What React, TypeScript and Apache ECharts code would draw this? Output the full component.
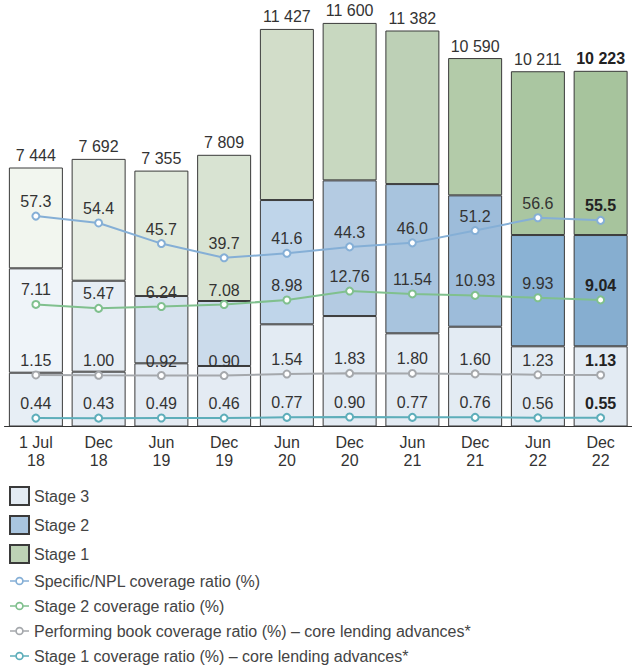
import React, { useEffect, useRef } from "react";
import * as echarts from "echarts";

const categories = ["1 Jul\n18", "Dec\n18", "Jun\n19", "Dec\n19", "Jun\n20", "Dec\n20", "Jun\n21", "Dec\n21", "Jun\n22", "Dec\n22"];
const totals = [7444, 7692, 7355, 7809, 11427, 11600, 11382, 10590, 10211, 10223];
const stage3 = [1546, 1575, 1816, 1739, 2937, 3175, 2678, 2868, 2305, 2305];
const stage2 = [3000, 2615, 1934, 1868, 3572, 3899, 4290, 3776, 3198, 3198];
const stage1 = [2898, 3502, 3605, 4202, 4918, 4526, 4414, 3946, 4708, 4720];
const specificNpl = [57.3, 54.4, 45.7, 39.7, 41.6, 44.3, 46.0, 51.2, 56.6, 55.5];
const stage2Cov = [7.11, 5.47, 6.24, 7.08, 8.98, 12.76, 11.54, 10.93, 9.93, 9.04];
const performingCov = [1.15, 1.0, 0.92, 0.9, 1.54, 1.83, 1.8, 1.6, 1.23, 1.13];
const stage1Cov = [0.44, 0.43, 0.49, 0.46, 0.77, 0.9, 0.77, 0.76, 0.56, 0.55];

const barNames = ["Stage 3", "Stage 2", "Stage 1"];
const lineNames = [
  "Specific/NPL coverage ratio (%)",
  "Stage 2 coverage ratio (%)",
  "Performing book coverage ratio (%) – core lending advances*",
  "Stage 1 coverage ratio (%) – core lending advances*",
];

const s1Colors = ["#f2f6ef", "#e7ede3", "#e1eadc", "#d8e3d2", "#d2ddc9", "#c8d8c0", "#bdd0b6", "#b3cba9", "#aac6a1", "#a7c49d"];
const s2Colors = ["#eff4f9", "#e6edf4", "#d6e2ee", "#cbdbeb", "#bfd5ea", "#b4cbe2", "#a8c4de", "#9dbcda", "#8ab2d4", "#86aed0"];
const s3Colors = ["#e7eef5", "#e5ecf4", "#e4ebf3", "#e4ebf3", "#e3ebf3", "#e3ebf3", "#e3ebf3", "#e3ebf3", "#e3ebf3", "#e3ebf3"];
const lineColors = ["#85afd6", "#80c08e", "#a5a8ac", "#5eaeba"];

const FONT = "'Liberation Sans', Arial, Helvetica, sans-serif";
const last = categories.length - 1;

const LINE_ICON =
  "path://M0 3.7H5.6V5.3H0Z" +
  "M14.5 4.5A4.5 4.5 0 1 0 5.5 4.5A4.5 4.5 0 1 0 14.5 4.5Z" +
  "M12.7 4.5A2.7 2.7 0 1 1 7.3 4.5A2.7 2.7 0 1 1 12.7 4.5Z" +
  "M14.4 3.7H20V5.3H14.4Z";

function fmtThousands(n: number) {
  return String(n).replace(/\B(?=(\d{3})+(?!\d))/g, " ");
}

export default function App() {
  const ref = useRef<HTMLDivElement>(null);
  useEffect(() => {
    document.body.style.margin = "0";
    const chart = echarts.init(ref.current!, null, { renderer: "svg" });
    const border = { borderColor: "#3a3a3a", borderWidth: 1 };
    const barSeries = (name: string, vals: number[], colors: string[], legendColor: string, withTotal: boolean) => ({
      name,
      type: "bar",
      stack: "s",
      yAxisIndex: 0,
      barWidth: 54,
      itemStyle: { color: legendColor, ...border },
      data: vals.map((v, i) => ({
        value: v,
        itemStyle: { color: colors[i] },
        label: withTotal && i === last ? { fontWeight: "bold", color: "#222" } : undefined,
      })),
      label: withTotal
        ? {
            show: true,
            position: "top",
            distance: 4,
            fontFamily: FONT,
            fontSize: 16,
            color: "#333",
            formatter: (p: any) => fmtThousands(totals[p.dataIndex]),
          }
        : { show: false },
      z: 1,
    });
    const lineSeries = (name: string, vals: number[], color: string, axis: number, dec: number) => ({
      name,
      type: "line",
      yAxisIndex: axis,
      symbol: "circle",
      symbolSize: 7,
      lineStyle: { color, width: 2 },
      itemStyle: { color: "#fff", borderColor: color, borderWidth: 2 },
      z: 5,
      data: vals.map((v, i) => ({
        value: v,
        label: i === last ? { fontWeight: "bold", color: "#222" } : undefined,
      })),
      label: {
        show: true,
        position: "top",
        distance: 2,
        fontFamily: FONT,
        fontSize: 16,
        color: "#333",
        formatter: (p: any) => Number(p.value).toFixed(dec),
      },
    });
    const hiddenAxis = (min: number, max: number) => ({
      type: "value",
      show: false,
      min,
      max,
      splitLine: { show: false },
    });
    chart.setOption({
      animation: false,
      textStyle: { fontFamily: FONT },
      grid: { left: 4.5, width: 633, top: 9, height: 417.5 },
      legend: {
        orient: "vertical",
        left: 9,
        top: 486,
        padding: 0,
        itemWidth: 19,
        itemHeight: 18,
        itemGap: 9,
        textStyle: { fontFamily: FONT, fontSize: 16, color: "#444" },
        data: [
          ...barNames.map((n) => ({ name: n, icon: "rect" })),
          ...lineNames.map((n, i) => ({
            name: n,
            icon: LINE_ICON,
            itemStyle: { color: lineColors[i], borderWidth: 0 },
          })),
        ],
      },
      xAxis: {
        type: "category",
        data: categories,
        axisLine: { lineStyle: { color: "#333", width: 1 } },
        axisTick: { show: false },
        axisLabel: { fontFamily: FONT, fontSize: 16, color: "#333", lineHeight: 18, margin: 7 },
      },
      yAxis: [
        hiddenAxis(0, 12000),
        hiddenAxis(-31.5, 144.7),
        hiddenAxis(-44.4, 131.8),
        hiddenAxis(-20.6, 155.6),
        hiddenAxis(-3.1, 173.1),
      ],
      series: [
        barSeries(barNames[0], stage3, s3Colors, "#e3ebf3", false),
        barSeries(barNames[1], stage2, s2Colors, "#a9c5df", false),
        barSeries(barNames[2], stage1, s1Colors, "#bdd2b5", true),
        lineSeries(lineNames[0], specificNpl, lineColors[0], 1, 1),
        lineSeries(lineNames[1], stage2Cov, lineColors[1], 2, 2),
        lineSeries(lineNames[2], performingCov, lineColors[2], 3, 2),
        lineSeries(lineNames[3], stage1Cov, lineColors[3], 4, 2),
      ],
    });
    return () => chart.dispose();
  }, []);
  return <div ref={ref} style={{ position: "absolute", left: 0, top: 0, width: 632, height: 667 }} />;
}
